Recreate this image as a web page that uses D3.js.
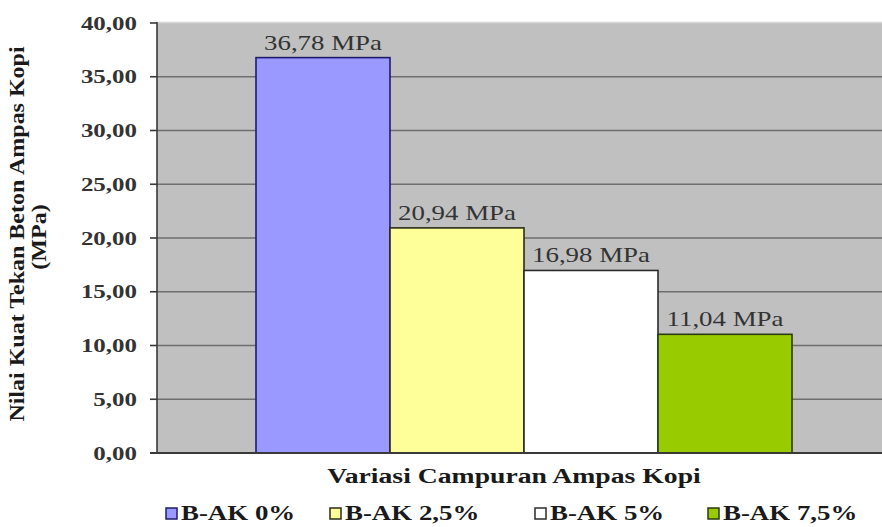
<!DOCTYPE html>
<html>
<head>
<meta charset="utf-8">
<script src="https://cdn.jsdelivr.net/npm/d3@7"></script>
<style>
  html, body { margin: 0; padding: 0; background: #ffffff; }
  svg { display: block; }
  text { font-family: "Liberation Serif", "Times New Roman", serif; }
</style>
</head>
<body>
<svg id="chart" width="882" height="527"></svg>
<script>
// Compressive strength of concrete with coffee-ground substitution
const series = ["B-AK 0%", "B-AK 2,5%", "B-AK 5%", "B-AK 7,5%"];
const values = [36.78, 20.94, 16.98, 11.04];
const valueLabels = ["36,78 MPa", "20,94 MPa", "16,98 MPa", "11,04 MPa"];
const colors = ["#9999ff", "#ffff99", "#ffffff", "#99cc00"];
const borderColors = ["#1c1c6a", "#2b2b1a", "#2b2b2b", "#2b3a10"];
const yTicks = [0, 5, 10, 15, 20, 25, 30, 35, 40];
const yTickLabels = ["0,00", "5,00", "10,00", "15,00", "20,00", "25,00", "30,00", "35,00", "40,00"];
const yTitle = ["Nilai Kuat Tekan Beton Ampas Kopi", "(MPa)"];
const xTitle = "Variasi Campuran Ampas Kopi";

const svg = d3.select("#chart");
const W = 882, H = 527;
const plot = { left: 157, right: 891, top: 22, bottom: 453 };
const sx = 1.28; // horizontal glyph stretch used throughout the figure

const y = d3.scaleLinear().domain([0, 40]).range([plot.bottom, plot.top + 1]);
const gap = 99;
const x = d3.scaleBand().domain(series)
  .range([plot.left + gap, plot.right - gap]).padding(0);

// plot background
svg.append("rect")
  .attr("x", plot.left).attr("y", plot.top)
  .attr("width", plot.right - plot.left).attr("height", plot.bottom - plot.top)
  .attr("fill", "#c0c0c0");
svg.append("line")
  .attr("x1", plot.left).attr("x2", plot.right)
  .attr("y1", plot.top + 0.5).attr("y2", plot.top + 0.5)
  .attr("stroke", "#d8d8d8").attr("stroke-width", 1.5);

// gridlines
svg.append("g").selectAll("line")
  .data(yTicks.filter(d => d > 0 && d < 40))
  .join("line")
  .attr("x1", plot.left).attr("x2", plot.right)
  .attr("y1", d => y(d)).attr("y2", d => y(d))
  .attr("stroke", "#6e6e6e").attr("stroke-width", 1.6);

// bars
svg.append("g").selectAll("rect")
  .data(values)
  .join("rect")
  .attr("x", (d, i) => x(series[i]))
  .attr("y", d => y(d))
  .attr("width", x.bandwidth())
  .attr("height", d => plot.bottom - y(d))
  .attr("fill", (d, i) => colors[i])
  .attr("stroke", (d, i) => borderColors[i])
  .attr("stroke-width", 1.6);

// value labels
svg.append("g").selectAll("text")
  .data(values)
  .join("text")
  .attr("transform", (d, i) => `translate(${x(series[i]) + x.bandwidth() / 2},${y(d) - 8}) scale(${sx},1)`)
  .attr("text-anchor", "middle")
  .attr("font-size", 21)
  .attr("fill", "#333333")
  .text((d, i) => valueLabels[i]);

// y axis
const yAxis = svg.append("g");
yAxis.append("line")
  .attr("x1", plot.left).attr("x2", plot.left)
  .attr("y1", plot.top).attr("y2", plot.bottom)
  .attr("stroke", "#3a3a3a").attr("stroke-width", 1.6);
yAxis.selectAll("line.tick")
  .data(yTicks)
  .join("line").attr("class", "tick")
  .attr("x1", plot.left - 7).attr("x2", plot.left)
  .attr("y1", d => y(d)).attr("y2", d => y(d))
  .attr("stroke", "#3a3a3a").attr("stroke-width", 1.6);
yAxis.selectAll("text")
  .data(yTicks)
  .join("text")
  .attr("transform", d => `translate(137,${y(d) + 6.5}) scale(${sx},1)`)
  .attr("text-anchor", "end")
  .attr("font-size", 19.5)
  .attr("font-weight", "bold")
  .attr("fill", "#333333")
  .text((d, i) => yTickLabels[i]);

// x axis baseline
svg.append("line")
  .attr("x1", plot.left - 7).attr("x2", W)
  .attr("y1", plot.bottom).attr("y2", plot.bottom)
  .attr("stroke", "#3a3a3a").attr("stroke-width", 1.8);

// y title (two lines, rotated)
svg.append("text")
  .attr("transform", `translate(24,234) rotate(-90) scale(1.2,1)`)
  .attr("text-anchor", "middle")
  .attr("font-size", 20)
  .attr("font-weight", "bold")
  .attr("fill", "#1a1a1a")
  .text(yTitle[0]);
svg.append("text")
  .attr("transform", `translate(46,237) rotate(-90) scale(1.2,1)`)
  .attr("text-anchor", "middle")
  .attr("font-size", 20)
  .attr("font-weight", "bold")
  .attr("fill", "#1a1a1a")
  .text(yTitle[1]);

// x title
svg.append("text")
  .attr("transform", `translate(514,483) scale(${sx * 1.03},1)`)
  .attr("text-anchor", "middle")
  .attr("font-size", 21)
  .attr("font-weight", "bold")
  .attr("fill", "#1a1a1a")
  .text(xTitle);

// legend
const legendX = [166, 330, 535, 708];
const legend = svg.append("g").selectAll("g")
  .data(series)
  .join("g")
  .attr("transform", (d, i) => `translate(${legendX[i]},508)`);
legend.append("rect")
  .attr("width", 11).attr("height", 11)
  .attr("fill", (d, i) => colors[i])
  .attr("stroke", (d, i) => borderColors[i])
  .attr("stroke-width", 1.5);
legend.append("text")
  .attr("transform", `translate(15,12) scale(${sx},1)`)
  .attr("font-size", 21)
  .attr("font-weight", "bold")
  .attr("fill", "#1a1a1a")
  .text(d => d);
</script>
</body>
</html>
